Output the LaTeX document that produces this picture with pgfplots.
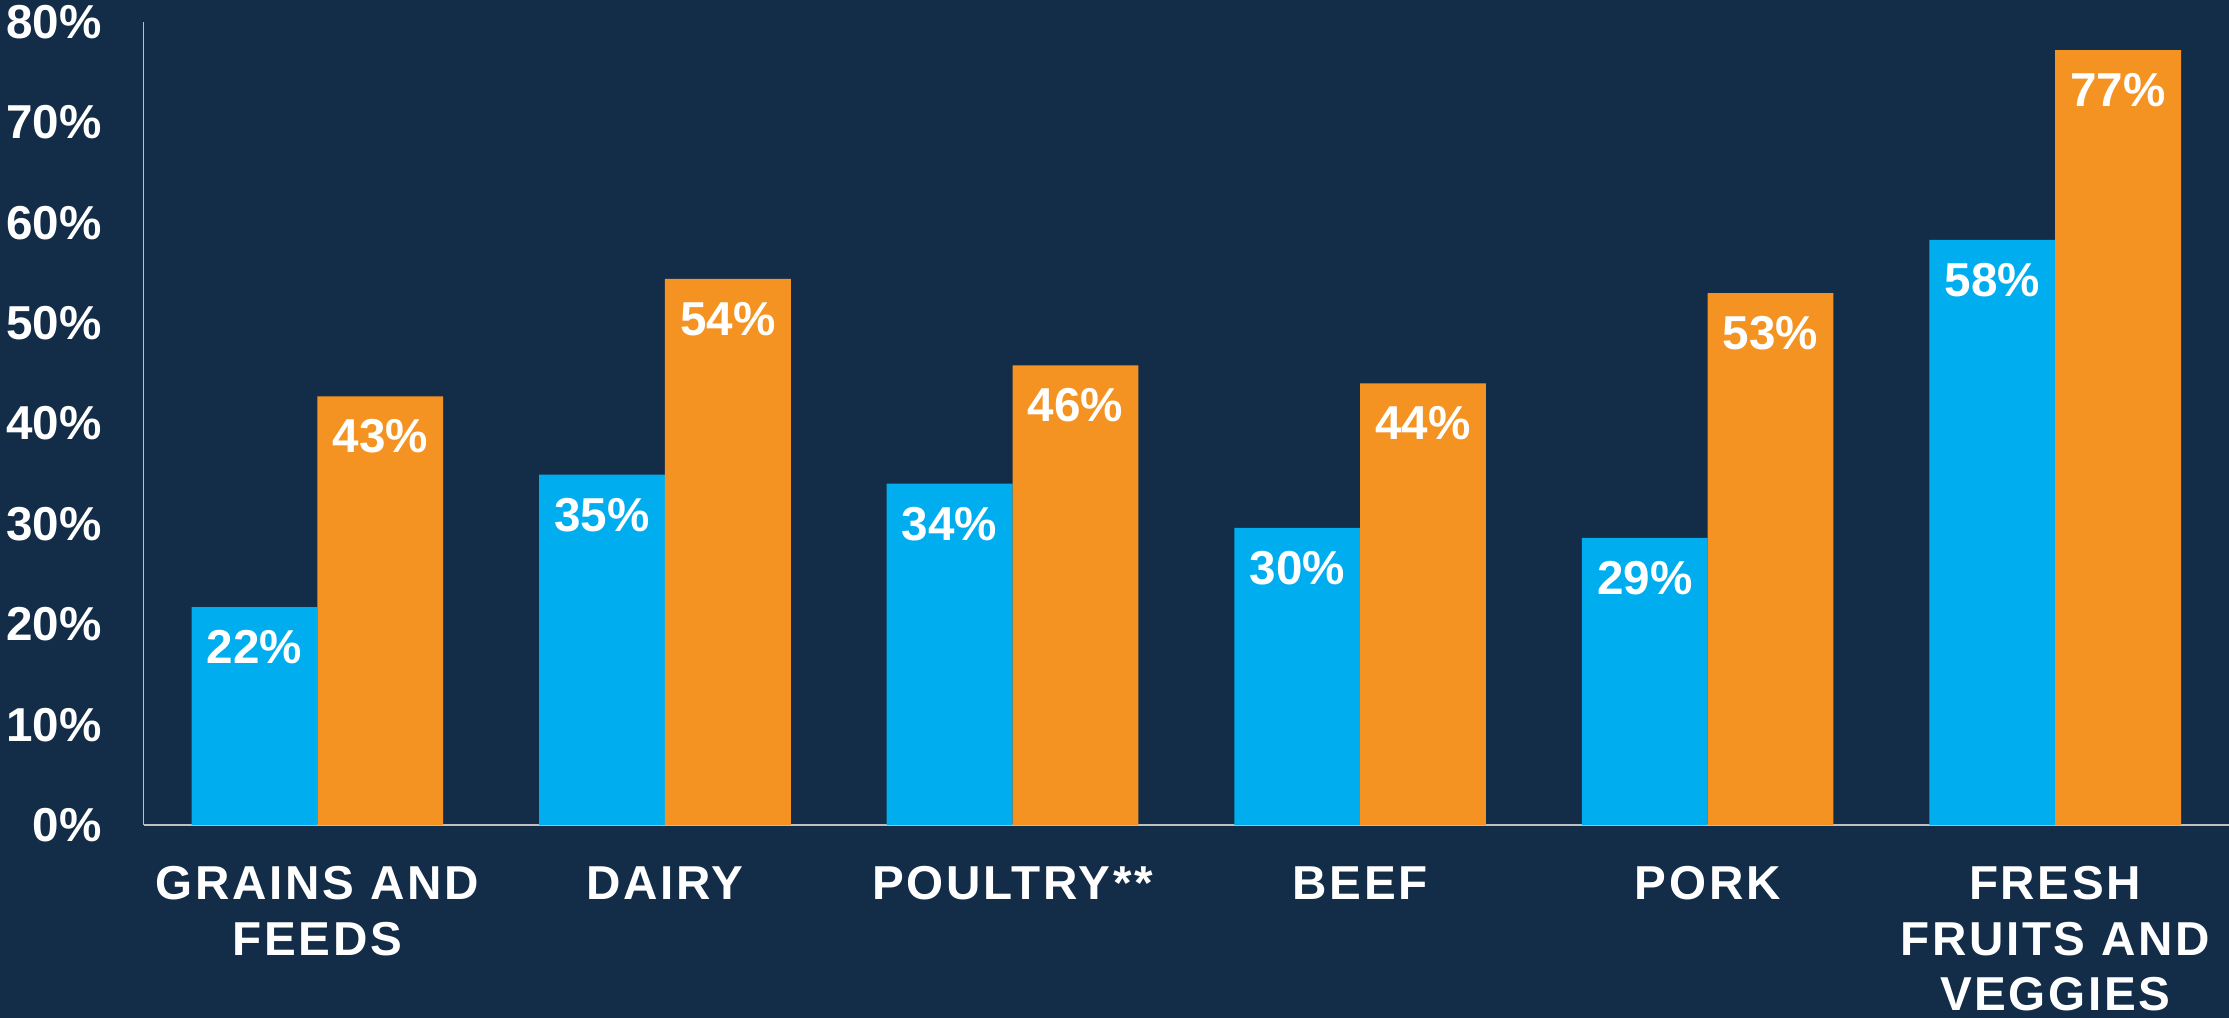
\documentclass[border=0pt]{standalone}
\usepackage{fontspec}
\setmainfont{Liberation Sans}
\newfontfamily\spaced[LetterSpace=5.6]{Liberation Sans}
\usepackage{pgfplots}
\usepackage{pgfplotstable}
\pgfplotsset{compat=1.18}
\definecolor{bg}{HTML}{132D48}
\definecolor{cblue}{HTML}{00AEEF}
\definecolor{corange}{HTML}{F49321}
\definecolor{axgrey}{HTML}{BFBFBF}
\pgfplotstableread{
x b bl o ol
0 21.7 22 42.7 43
1 34.9 35 54.4 54
2 34.0 34 45.8 46
3 29.6 30 44.0 44
4 28.6 29 53.0 53
5 58.3 58 77.2 77
}\datatab
\begin{document}
\begin{tikzpicture}
\fill[bg] (-71.8pt,-96.5pt) rectangle (1042.7pt,412.5pt);
\begin{axis}[
  at={(0,0)}, anchor=south west,
  scale only axis, width=1042.7pt, height=401.5pt,
  xmin=-0.5, xmax=5.5, ymin=0, ymax=80,
  axis lines*=left,
  axis line style={draw=axgrey, line width=0.9pt},
  major tick length=0pt,
  ybar=0pt, bar width=62.9pt,
  xtick=data,
  xticklabels={GRAINS AND\\FEEDS, DAIRY, POULTRY**, BEEF, PORK, FRESH\\FRUITS AND\\VEGGIES},
  xticklabel style={align=center, anchor=north, inner sep=0pt, yshift=-20.5pt,
    font=\spaced\bfseries\fontsize{23.8}{27.75}\selectfont, text=white},
  ytick={0,10,...,80},
  yticklabel={\pgfmathprintnumber{\tick}\%},
  yticklabel style={anchor=east, inner sep=0pt, xshift=-20.8pt,
    font=\bfseries\fontsize{23.8}{27.75}\selectfont, text=white},
  /pgf/number format/assume math mode=true,
  point meta=explicit symbolic,
  nodes near coords={\pgfplotspointmeta\%},
  every node near coord/.append style={anchor=center, yshift=-20pt, text=white,
    font=\bfseries\fontsize{23.8}{27.75}\selectfont},
  clip=false,
]
\addplot[fill=cblue, draw=none] table[x=x, y=b, meta=bl] {\datatab};
\addplot[fill=corange, draw=none] table[x=x, y=o, meta=ol] {\datatab};
\end{axis}
\pgfresetboundingbox
\path[use as bounding box] (-71.8pt,-96.5pt) rectangle (1042.7pt,412.5pt);
\end{tikzpicture}
\end{document}
